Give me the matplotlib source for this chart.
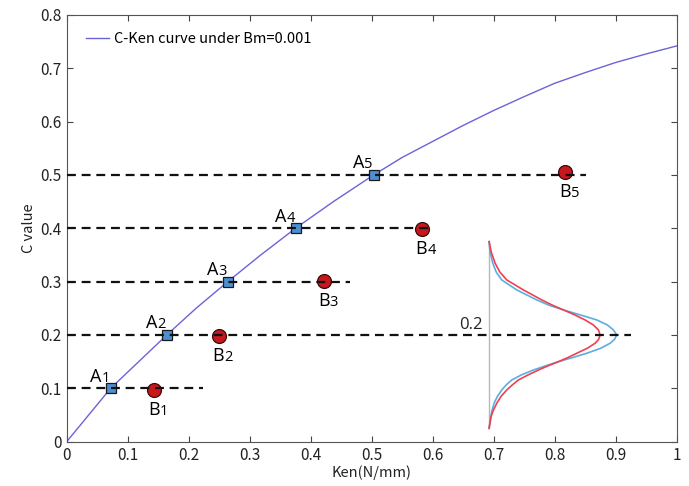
import matplotlib.pyplot as plt

# C-Ken curve
curve_ken = [0.0, 0.036, 0.072, 0.118, 0.164, 0.212, 0.264, 0.318, 0.375, 0.437, 0.503,
             0.55, 0.6, 0.65, 0.7, 0.75, 0.8, 0.85, 0.9, 0.95, 1.0]
curve_c = [0.0, 0.05, 0.1, 0.15, 0.2, 0.25, 0.3, 0.35, 0.4, 0.45, 0.5,
           0.533, 0.563, 0.593, 0.621, 0.647, 0.672, 0.692, 0.711, 0.727, 0.742]

# A points (on the curve) and B points
a_ken = [0.073, 0.164, 0.264, 0.376, 0.504]
a_c = [0.1, 0.2, 0.3, 0.4, 0.5]
b_ken = [0.143, 0.249, 0.422, 0.582, 0.817]
b_c = [0.097, 0.198, 0.301, 0.399, 0.506]
point_ids = ['1', '2', '3', '4', '5']

# dashed reference lines: level and right end
dash_c = [0.1, 0.2, 0.3, 0.4, 0.5]
dash_end = [0.223, 0.925, 0.464, 0.599, 0.851]

# inset distributions around C = 0.2
dist_c = [0.375, 0.355, 0.3345, 0.318, 0.3032, 0.2845, 0.2657, 0.256, 0.247, 0.2376,
          0.2282, 0.219, 0.2095, 0.2001, 0.192, 0.1845, 0.175, 0.1658, 0.158, 0.15,
          0.1422, 0.1344, 0.125, 0.1157, 0.106, 0.0969, 0.085, 0.072, 0.058, 0.0469,
          0.0251]
blue_ken = [0.6923, 0.6940, 0.6984, 0.7040, 0.7131, 0.7377, 0.7705, 0.7900, 0.8142, 0.8420,
            0.8689, 0.8860, 0.8961, 0.9016, 0.8980, 0.8907, 0.8750, 0.8525, 0.8300, 0.8060,
            0.7850, 0.7650, 0.7450, 0.7295, 0.7200, 0.7131, 0.7060, 0.7005, 0.6970, 0.6951,
            0.6923]
red_ken = [0.6923, 0.6960, 0.7022, 0.7100, 0.7213, 0.7486, 0.7787, 0.7960, 0.8142, 0.8330,
           0.8497, 0.8630, 0.8716, 0.8743, 0.8720, 0.8661, 0.8530, 0.8361, 0.8220, 0.8060,
           0.7890, 0.7732, 0.7560, 0.7404, 0.7300, 0.7213, 0.7120, 0.7049, 0.6990, 0.6956,
           0.6923]
base_ken = 0.692

xticks = [0, 0.1, 0.2, 0.3, 0.4, 0.5, 0.6, 0.7, 0.8, 0.9, 1]
xtick_labels = ['0', '0.1', '0.2', '0.3', '0.4', '0.5', '0.6', '0.7', '0.8', '0.9', '1']
yticks = [0, 0.1, 0.2, 0.3, 0.4, 0.5, 0.6, 0.7, 0.8]
ytick_labels = ['0', '0.1', '0.2', '0.3', '0.4', '0.5', '0.6', '0.7', '0.8']

plt.rcParams['font.family'] = ['Noto Sans CJK JP', 'DejaVu Sans']

fig = plt.figure(figsize=(6.89, 4.86), dpi=100)
ax = fig.add_axes([0.0968, 0.0912, 0.8855, 0.878])

# main curve
ax.plot(curve_ken, curve_c, color='#6b63d6', lw=1.0, zorder=2,
        label='C-Ken curve under Bm=0.001')

# inset distributions
ax.plot([base_ken, base_ken], [dist_c[0], dist_c[-1]], color='#b8b8b8', lw=1.0, zorder=2)
ax.plot(blue_ken, dist_c, color='#5aaee2', lw=1.2, zorder=2)
ax.plot(red_ken, dist_c, color='#f0404e', lw=1.2, zorder=2)
ax.text(0.682, 0.211, '0.2', fontsize=12, family=['Open Sans'], ha='right',
        va='baseline', color='#222222')

# markers
ax.plot(a_ken, a_c, ls='none', marker='s', ms=7, mfc='#4d8fd1', mec='#1a1a1a',
        mew=0.9, zorder=3)
ax.plot(b_ken, b_c, ls='none', marker='o', ms=10, mfc='#c8161d', mec='#3a0a0a',
        mew=0.9, zorder=3)

# dashed lines on top of markers
for c, end in zip(dash_c, dash_end):
    ax.plot([0, end], [c, c], color='#111111', lw=1.6, ls=(0, (4, 2.6)), zorder=4)

# point labels: letter plus smaller digit
for x, y, n in zip(a_ken, a_c, point_ids):
    ax.annotate('A', (x, y), xytext=(-7, 4.7), textcoords='offset points',
                ha='right', va='baseline', fontsize=13, family=['Open Sans'], zorder=5)
    ax.annotate(n, (x, y), xytext=(-7, 4.7), textcoords='offset points',
                ha='left', va='baseline', fontsize=10.5, family=['Open Sans'], zorder=5)
for x, y, n in zip(b_ken, b_c, point_ids):
    ax.annotate('B', (x, y), xytext=(4, -18), textcoords='offset points',
                ha='right', va='baseline', fontsize=13, family=['Open Sans'], zorder=5)
    ax.annotate(n, (x, y), xytext=(4, -18), textcoords='offset points',
                ha='left', va='baseline', fontsize=10.5, family=['Open Sans'], zorder=5)

ax.set_xlim(0, 1)
ax.set_ylim(0, 0.8)
ax.set_xticks(xticks)
ax.set_xticklabels(xtick_labels)
ax.set_yticks(yticks)
ax.set_yticklabels(ytick_labels)
ax.tick_params(direction='in', top=True, right=True, length=4, width=0.8,
               labelsize=11, colors='#444444', labelcolor='#222222')
for s in ax.spines.values():
    s.set_color('#555555')
    s.set_linewidth(0.8)

ax.set_xlabel('Ken(N/mm)', fontsize=10.5, color='#222222', labelpad=1)
ax.set_ylabel('C value', fontsize=10.5, color='#222222', labelpad=3)

ax.legend(loc='upper left', bbox_to_anchor=(0.01, 0.99), frameon=False,
          fontsize=10.5, handlelength=1.6, handletextpad=0.3)

fig.savefig('out.png', dpi=100)
